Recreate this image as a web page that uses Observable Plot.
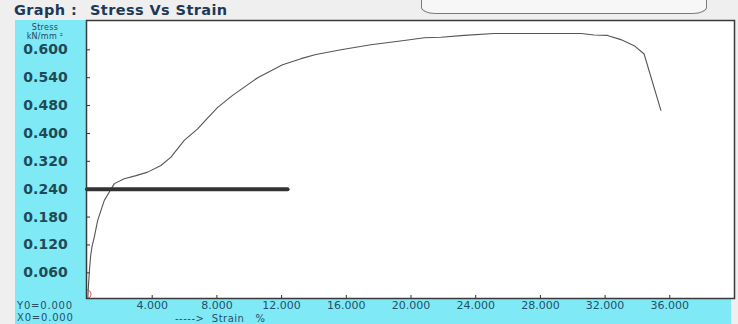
<!DOCTYPE html>
<html>
<head>
<meta charset="utf-8">
<script src="https://cdn.jsdelivr.net/npm/d3@7"></script>
<script src="https://cdn.jsdelivr.net/npm/@observablehq/plot@0.6"></script>
<style>
  html, body { margin: 0; padding: 0; background: #efefef; }
  #wrap { position: relative; width: 738px; height: 324px; overflow: hidden; background: #efefef;
          font-family: "DejaVu Sans", Verdana, sans-serif; }
  .abs { position: absolute; }
  .panel { background: #80e9f6; }
  #tab { left: 421px; top: -8px; width: 284px; height: 21px; border: 1px solid #7a7a7a; border-top: none;
         border-radius: 0 0 14px 14px / 0 0 7px 7px; background: #f7f7f7; }
  .title { top: 2px; font-weight: bold; font-size: 14.5px; letter-spacing: 0.4px; color: #1d3957; white-space: pre; }
  .unit { left: 15px; width: 60px; text-align: center; font-size: 8px; letter-spacing: 0.3px; color: #1f4a58; line-height: 9.4px; }
  .small { font-size: 10px; letter-spacing: 0.8px; color: #24506a; white-space: pre; line-height: 11.7px; }
  #chart { left: 0; top: 0; }
</style>
</head>
<body>
<div id="wrap">
  <div class="abs" id="tab"></div>
  <div class="abs title" style="left:14px">Graph :</div>
  <div class="abs title" style="left:90px">Stress Vs Strain</div>
  <div class="abs panel" style="left:15px;top:20px;width:71px;height:304px"></div>
  <div class="abs panel" style="left:15px;top:298px;width:716px;height:26px"></div>
  <div class="abs" style="left:86px;top:20px;width:648px;height:278px;background:#fff"></div>
  <div class="abs unit" style="top:23px">Stress</div>
  <div class="abs unit" style="top:32.4px">kN/mm ²</div>
  <div class="abs small" style="left:17px;top:300.3px">Y0=0.000</div>
  <div class="abs small" style="left:17px;top:312.1px">X0=0.000</div>
  <div class="abs small" style="left:175px;top:313.6px;line-height:10px;letter-spacing:0.5px">-----&gt;  Strain   %</div>
  <div class="abs" id="chart"></div>
</div>
<script>
// Stress–strain record (strain in %, stress in kN/mm²)
const strain = [0, 0.02, 0.06, 0.12, 0.19, 0.28, 0.42, 0.63, 0.83, 1.04, 1.35, 1.66, 2.27, 3.00, 3.72,
  4.54, 5.16, 5.98, 6.81, 7.32, 8.05, 8.97, 10.52, 12.06, 13.20, 14.12, 15.67, 17.52, 19.58, 20.82,
  21.85, 23.29, 25.14, 30.52, 31.32, 32.15, 32.97, 33.80, 34.41, 35.45];
const stress = [0, 0.005, 0.033, 0.065, 0.095, 0.117, 0.137, 0.173, 0.194, 0.216, 0.234, 0.256, 0.270, 0.279, 0.289,
  0.308, 0.332, 0.380, 0.413, 0.439, 0.475, 0.502, 0.540, 0.568, 0.581, 0.590, 0.600, 0.611, 0.620, 0.626,
  0.627, 0.631, 0.635, 0.635, 0.632, 0.631, 0.622, 0.609, 0.591, 0.466];

// Axis tick values as printed on the instrument's grid
const yTicks = [0.060, 0.120, 0.180, 0.240, 0.320, 0.400, 0.480, 0.540, 0.600];
const xTicks = [4, 8, 12, 16, 20, 24, 28, 32, 36];

// Horizontal marker line
const markerStress = 0.240;
const markerStrainEnd = 12.4;

const curve = strain.map((x, i) => ({x, y: stress[i]}));

// The grid lines are evenly spaced, so the stress scale is piecewise between ticks
const yDomain = [0, ...yTicks];
const Y_ZERO = 300.2, Y_STEP = 27.875;
const yRange = yDomain.map((_, i) => Y_ZERO - i * Y_STEP);

const chart = Plot.plot({
  width: 738,
  height: 324,
  marginLeft: 86,
  marginRight: 4,
  marginTop: 20,
  marginBottom: 26,
  style: {background: "transparent", overflow: "visible", fontFamily: "DejaVu Sans, Verdana, sans-serif"},
  x: {domain: [0, 40], range: [87, 734], label: null},
  y: {type: "linear", domain: yDomain, range: yRange, label: null},
  marks: [
    Plot.axisY(yTicks, {tickSize: -4, text: null, stroke: "#333", label: null}),
    Plot.axisY(yTicks, {tickSize: 0, tickPadding: 0, dx: -41, textAnchor: "middle", label: null,
      tickFormat: d3.format(".3f"), fontSize: 14, fontWeight: "bold", fill: "#1f4a56"}),
    Plot.axisX(xTicks, {tickSize: -3, text: null, stroke: "#333", label: null}),
    Plot.axisX(xTicks, {tickSize: 0, tickPadding: 3, tickFormat: d3.format(".3f"), label: null,
      fontSize: 11, letterSpacing: "0.4px", fill: "#24506a"}),
    Plot.line(curve, {x: "x", y: "y", stroke: "#555", strokeWidth: 1.1, clip: true}),
    Plot.ruleY([{y: markerStress, x1: 0, x2: markerStrainEnd}],
      {y: "y", x1: "x1", x2: "x2", stroke: "#333", strokeWidth: 4, strokeLinecap: "round"}),
    Plot.dot([{x: 0, y: 0}], {x: "x", y: "y", r: 4.5, dy: -6.5, dx: -1, stroke: "#d0506e", strokeWidth: 1, clip: true}),
    Plot.frame({stroke: "#3a3a3a", strokeWidth: 1.5})
  ]
});
document.getElementById("chart").appendChild(chart);
</script>
</body>
</html>
